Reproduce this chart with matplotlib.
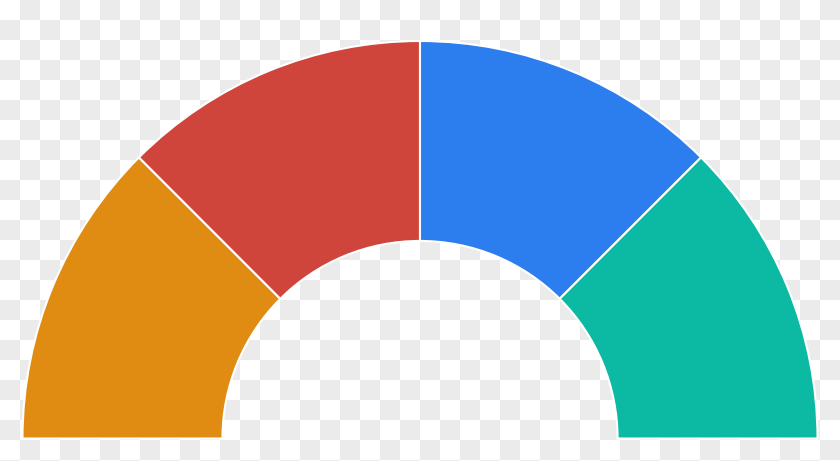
import numpy as np
import matplotlib
matplotlib.use("Agg")
import matplotlib.pyplot as plt

# Four equal segments of the half donut, left to right
labels = ["A", "B", "C", "D"]
values = [1, 1, 1, 1]
colors = ["#E08C13", "#D0453B", "#2C7DED", "#0CB9A3"]

fig = plt.figure(figsize=(8.4, 4.61), dpi=100)

# transparency checkerboard behind the chart
rows, cols = np.indices((461, 840)) // 20
checker = ((rows + cols) % 2).astype(float)
shade = 1.0 - checker * (20 / 255)
bg = np.dstack([shade, shade, shade])
fig.figimage(bg, xo=0, yo=0, origin="upper", zorder=-5)

ax = fig.add_axes([0, 0, 1, 1])
ax.set_zorder(5)
ax.patch.set_alpha(0)

# hidden lower half so the visible part is a semicircle
all_values = values + [sum(values)]
all_colors = colors + ["none"]
wedges, _ = ax.pie(all_values, colors=all_colors, startangle=180,
                   counterclock=False, radius=1.0,
                   wedgeprops=dict(width=0.503, edgecolor="white", linewidth=1.5))
wedges[-1].set_edgecolor("none")

# scale: 397.5 px per unit, centre at (420, 438.5) from top-left
ppu = 397.5
ax.set_xlim(-420 / ppu, 420 / ppu)
ax.set_ylim(-22.5 / ppu, 438.5 / ppu)
ax.set_aspect("auto")
ax.axis("off")

fig.savefig("out.png", dpi=100)
